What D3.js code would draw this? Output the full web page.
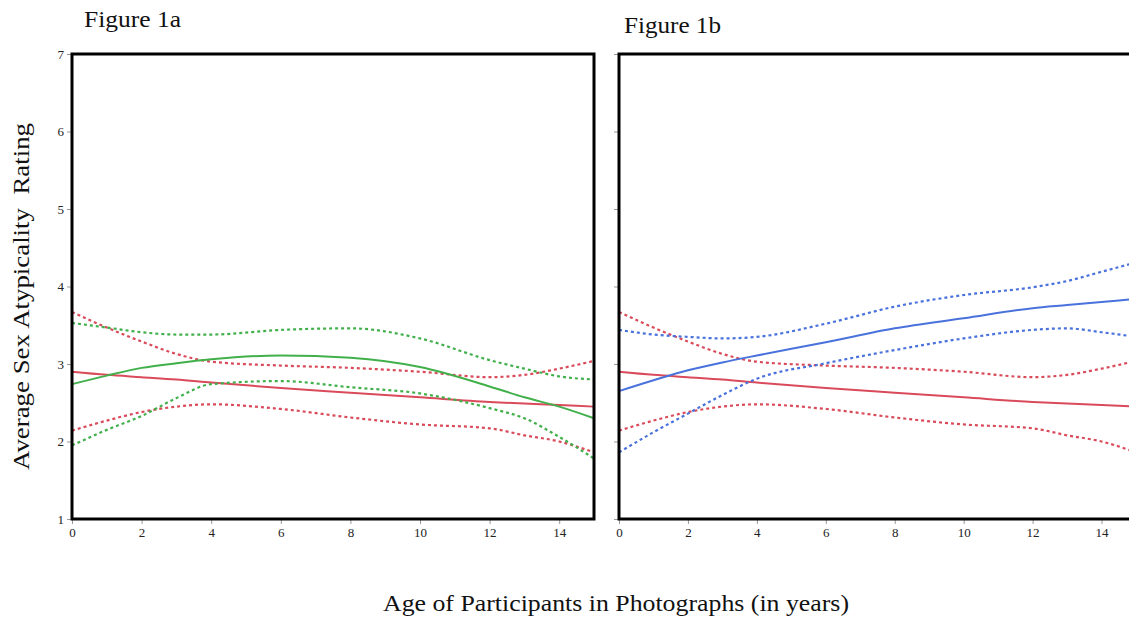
<!DOCTYPE html>
<html>
<head>
<meta charset="utf-8">
<script src="https://cdn.jsdelivr.net/npm/d3@7"></script>
<style>
  html, body { margin: 0; padding: 0; background: #fff; }
  svg { display: block; }
  .tick line { stroke: #999; }
  .domain { display: none; }
</style>
</head>
<body>
<div id="chart"></div>
<script>
const ages = [0, 1, 2, 3, 4, 6, 8, 10, 12, 13, 14, 15];

// Red fit (shown in both panels) and its confidence band
const redFit   = [2.90, 2.86, 2.83, 2.80, 2.76, 2.69, 2.63, 2.57, 2.51, 2.49, 2.47, 2.45];
const redUpper = [3.67, 3.47, 3.29, 3.13, 3.03, 2.98, 2.95, 2.90, 2.83, 2.86, 2.94, 3.04];
const redLower = [2.14, 2.27, 2.38, 2.45, 2.48, 2.42, 2.31, 2.22, 2.17, 2.08, 2.00, 1.86];

// Figure 1a: green fit
const greenFit   = [2.74, 2.85, 2.95, 3.01, 3.06, 3.11, 3.08, 2.96, 2.71, 2.57, 2.45, 2.30];
const greenUpper = [3.53, 3.47, 3.41, 3.38, 3.38, 3.44, 3.46, 3.33, 3.05, 2.94, 2.84, 2.80];
const greenLower = [1.95, 2.15, 2.33, 2.56, 2.74, 2.78, 2.70, 2.62, 2.43, 2.30, 2.06, 1.78];

// Figure 1b: blue fit
const blueFit   = [2.65, 2.79, 2.92, 3.02, 3.11, 3.28, 3.46, 3.59, 3.72, 3.76, 3.80, 3.84];
const blueUpper = [3.44, 3.38, 3.35, 3.33, 3.35, 3.52, 3.74, 3.89, 3.99, 4.07, 4.19, 4.31];
const blueLower = [1.86, 2.12, 2.36, 2.60, 2.81, 3.01, 3.18, 3.33, 3.44, 3.46, 3.41, 3.35];

const xTicks = [0, 2, 4, 6, 8, 10, 12, 14];
const yTicks = [1, 2, 3, 4, 5, 6, 7];

const colors = { red: '#d94a5a', green: '#41b04b', blue: '#4a72dc' };

const W = 1129;
const H = 621;
const serif = '"Liberation Serif", "DejaVu Serif", serif';

const svg = d3.select('#chart')
  .append('svg')
  .attr('width', W)
  .attr('height', H);

const panels = [
  {
    title: 'Figure 1a', left: 72, right: 594, titleX: 84, titleY: 27, labels: true,
    series: [
      { v: redFit, c: colors.red, dash: null },
      { v: redUpper, c: colors.red, dash: '3,3' },
      { v: redLower, c: colors.red, dash: '3,3' },
      { v: greenFit, c: colors.green, dash: null },
      { v: greenUpper, c: colors.green, dash: '3,3' },
      { v: greenLower, c: colors.green, dash: '3,3' }
    ]
  },
  {
    title: 'Figure 1b', left: 619, right: 1136, titleX: 624, titleY: 33, labels: false,
    series: [
      { v: redFit, c: colors.red, dash: null },
      { v: redUpper, c: colors.red, dash: '3,3' },
      { v: redLower, c: colors.red, dash: '3,3' },
      { v: blueFit, c: colors.blue, dash: null },
      { v: blueUpper, c: colors.blue, dash: '3,3' },
      { v: blueLower, c: colors.blue, dash: '3,3' }
    ]
  }
];

const plotTop = 54;
const plotBottom = 519;

panels.forEach((p) => {
  const x = d3.scaleLinear().domain([0, 15]).range([p.left, p.right]);
  const y = d3.scaleLinear().domain([1, 7]).range([plotBottom, plotTop]);

  const g = svg.append('g');

  // Axes
  const xAxis = d3.axisBottom(x).tickValues(xTicks).tickSize(5).tickPadding(4)
    .tickFormat(d3.format('d'));
  const yAxis = d3.axisLeft(y).tickValues(yTicks).tickSize(5).tickPadding(3)
    .tickFormat(p.labels ? d3.format('d') : '');

  g.append('g')
    .attr('transform', `translate(0, ${plotBottom})`)
    .call(xAxis);

  g.append('g')
    .attr('transform', `translate(${p.left}, 0)`)
    .call(yAxis);

  g.selectAll('.tick text')
    .style('font-family', serif)
    .style('font-size', '13px')
    .style('fill', '#222');

  // Lines
  const line = d3.line()
    .x((d, i) => x(ages[i]))
    .y(d => y(d))
    .curve(d3.curveMonotoneX);

  p.series.forEach((s) => {
    g.append('path')
      .datum(s.v)
      .attr('fill', 'none')
      .attr('stroke', s.c)
      .attr('stroke-width', s.dash ? 2.2 : 2)
      .attr('stroke-dasharray', s.dash)
      .attr('d', line);
  });

  // Frame
  g.append('rect')
    .attr('x', p.left)
    .attr('y', plotTop)
    .attr('width', p.right - p.left)
    .attr('height', plotBottom - plotTop)
    .attr('fill', 'none')
    .attr('stroke', '#000')
    .attr('stroke-width', 3);

  // Panel title
  svg.append('text')
    .attr('x', p.titleX)
    .attr('y', p.titleY)
    .attr('textLength', 97)
    .attr('lengthAdjust', 'spacingAndGlyphs')
    .style('font-family', serif)
    .style('font-size', '24px')
    .style('fill', '#111')
    .text(p.title);
});

// Axis titles
svg.append('text')
  .attr('x', 383)
  .attr('y', 611)
  .attr('textLength', 466)
  .attr('lengthAdjust', 'spacingAndGlyphs')
  .style('font-family', serif)
  .style('font-size', '24px')
  .style('fill', '#111')
  .text('Age of Participants in Photographs (in years)');

svg.append('text')
  .attr('transform', 'translate(29, 470) rotate(-90)')
  .attr('textLength', 347)
  .attr('lengthAdjust', 'spacingAndGlyphs')
  .style('font-family', serif)
  .style('font-size', '24px')
  .style('fill', '#111')
  .style('white-space', 'pre')
  .text('Average Sex Atypicality  Rating');
</script>
</body>
</html>
